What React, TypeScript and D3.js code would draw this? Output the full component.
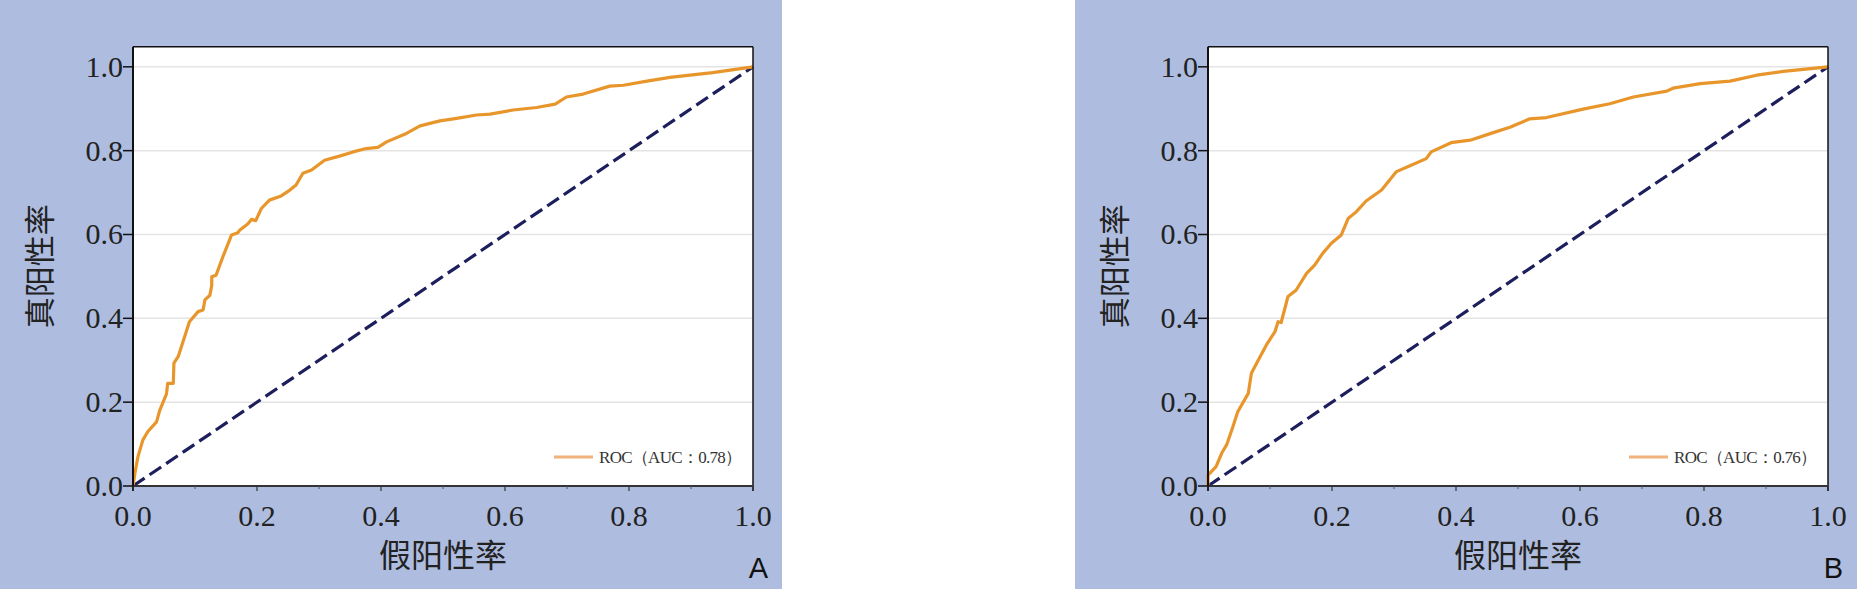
import React from 'react';
import * as d3 from 'd3';

// ROC 曲线读数（假阳性率 / 真阳性率）
const fprA = [0, 0.003, 0.008, 0.016, 0.024, 0.038, 0.043, 0.054, 0.056, 0.065, 0.066, 0.073, 0.091, 0.105, 0.113, 0.116, 0.124, 0.127, 0.127, 0.134, 0.145, 0.159, 0.169, 0.172, 0.185, 0.191, 0.198, 0.207, 0.22, 0.239, 0.253, 0.263, 0.274, 0.288, 0.309, 0.333, 0.355, 0.376, 0.395, 0.409, 0.441, 0.463, 0.495, 0.522, 0.554, 0.576, 0.613, 0.651, 0.681, 0.699, 0.726, 0.769, 0.791, 0.829, 0.866, 0.935, 1];
const tprA = [0, 0.03, 0.07, 0.11, 0.13, 0.153, 0.18, 0.22, 0.245, 0.245, 0.293, 0.309, 0.392, 0.416, 0.42, 0.444, 0.455, 0.479, 0.499, 0.503, 0.547, 0.599, 0.604, 0.61, 0.625, 0.636, 0.633, 0.662, 0.682, 0.692, 0.706, 0.718, 0.746, 0.754, 0.777, 0.787, 0.797, 0.805, 0.808, 0.821, 0.841, 0.859, 0.871, 0.877, 0.885, 0.887, 0.897, 0.903, 0.911, 0.928, 0.935, 0.954, 0.956, 0.966, 0.975, 0.986, 1];

const fprB = [0, 0, 0.013, 0.022, 0.03, 0.04, 0.048, 0.065, 0.07, 0.081, 0.094, 0.108, 0.113, 0.118, 0.129, 0.142, 0.159, 0.172, 0.185, 0.199, 0.215, 0.226, 0.239, 0.255, 0.28, 0.304, 0.323, 0.352, 0.36, 0.392, 0.423, 0.46, 0.487, 0.519, 0.546, 0.605, 0.648, 0.686, 0.74, 0.75, 0.794, 0.842, 0.885, 0.928, 1];
const tprB = [0, 0.026, 0.046, 0.078, 0.098, 0.141, 0.177, 0.221, 0.269, 0.3, 0.336, 0.368, 0.392, 0.39, 0.452, 0.467, 0.507, 0.527, 0.555, 0.579, 0.599, 0.638, 0.654, 0.68, 0.706, 0.75, 0.762, 0.781, 0.797, 0.819, 0.825, 0.843, 0.856, 0.876, 0.879, 0.899, 0.912, 0.928, 0.942, 0.949, 0.96, 0.966, 0.98, 0.989, 1];

const panelLabels = ['A', 'B'];
const aucValues = ['0.78', '0.76'];
const majorTicks = [0, 0.2, 0.4, 0.6, 0.8, 1.0];
const minorTicks = [0.1, 0.3, 0.5, 0.7, 0.9];
const gridTicks = [0.2, 0.4, 0.6, 0.8, 1.0];

const W = 1857;
const H = 590;
const panelW = 782;
const panelH = 589;
const panelX = [0, 1075];
const plot = { left: 133, right: 753, top: 46.7, bottom: 486 };

const serif = '"Liberation Serif", "Times New Roman", serif';
const cjk = '"Noto Sans CJK SC", sans-serif';

function Panel({ fpr, tpr, label, auc, x0 }: { fpr: number[]; tpr: number[]; label: string; auc: string; x0: number }) {
  const x = d3.scaleLinear().domain([0, 1]).range([plot.left, plot.right]);
  const y = d3.scaleLinear().domain([0, 1.048]).range([plot.bottom, plot.top]);
  const pts: [number, number][] = fpr.map((f, i) => [f, tpr[i]]);
  const line = d3.line<[number, number]>().x(d => x(d[0])).y(d => y(d[1]));
  const diag = line([[0, 0], [1, 1]]) || '';

  return (
    <g transform={`translate(${x0},0)`}>
      <rect x={0} y={0} width={panelW} height={panelH} fill="#aebddf" />
      <rect x={plot.left} y={plot.top} width={plot.right - plot.left} height={plot.bottom - plot.top} fill="#ffffff" />
      {gridTicks.map(t => (
        <line key={t} x1={plot.left} x2={plot.right} y1={y(t)} y2={y(t)} stroke="#e4e4e4" strokeWidth={1.5} />
      ))}
      <path d={diag} stroke="#1c1f5c" strokeWidth={3.2} strokeDasharray="14,6" fill="none" />
      <path d={line(pts) || ''} stroke="#e8962b" strokeWidth={3.2} fill="none" strokeLinejoin="round" />

      {/* 边框 */}
      <line x1={plot.left} x2={plot.right} y1={plot.top} y2={plot.top} stroke="#111" strokeWidth={1.5} />
      <line x1={plot.right} x2={plot.right} y1={plot.top} y2={plot.bottom + 5} stroke="#111" strokeWidth={1.5} />
      <line x1={plot.left} x2={plot.right} y1={plot.bottom} y2={plot.bottom} stroke="#333" strokeWidth={2} />
      <line x1={plot.left} x2={plot.left} y1={plot.top} y2={plot.bottom + 5} stroke="#111" strokeWidth={2} />

      {/* y 轴 */}
      {majorTicks.map(t => (
        <g key={t}>
          <line x1={plot.left - 10} x2={plot.left} y1={y(t)} y2={y(t)} stroke="#111" strokeWidth={1.5} />
          <text x={plot.left - 10} y={y(t)} dy="0.33em" textAnchor="end" fontFamily={serif} fontSize={30} fill="#222">
            {d3.format('.1f')(t)}
          </text>
        </g>
      ))}

      {/* x 轴 */}
      {majorTicks.map(t => (
        <g key={t}>
          <line x1={x(t)} x2={x(t)} y1={plot.bottom} y2={plot.bottom + 5} stroke="#333" strokeWidth={1.2} />
          <text x={x(t)} y={526} textAnchor="middle" fontFamily={serif} fontSize={30} fill="#222">
            {d3.format('.1f')(t)}
          </text>
        </g>
      ))}
      {minorTicks.map(t => (
        <line key={t} x1={x(t)} x2={x(t)} y1={plot.bottom} y2={plot.bottom + 3} stroke="#555" strokeWidth={1} />
      ))}

      <text x={(plot.left + plot.right) / 2} y={567} textAnchor="middle" fontFamily={cjk} fontSize={32} fill="#222">
        假阳性率
      </text>
      <text transform={`translate(51,${(plot.top + plot.bottom) / 2}) rotate(-90)`} textAnchor="middle" fontFamily={cjk} fontSize={31} fill="#222">
        真阳性率
      </text>

      {/* 图例 */}
      <line x1={plot.left + 421} x2={plot.left + 460} y1={457} y2={457} stroke="#f2b27c" strokeWidth={3} />
      <text x={plot.left + 466} y={463} fontFamily={serif} fontSize={17} fill="#333" textLength={143} lengthAdjust="spacing">
        {`ROC（AUC：${auc}）`}
      </text>

      <text x={768} y={578} textAnchor="end" fontFamily='"Liberation Sans", Arial, sans-serif' fontSize={29} fill="#111">
        {label}
      </text>
    </g>
  );
}

export default function App() {
  return (
    <>
      <style>{`body{margin:0;background:#fff}`}</style>
      <svg width={W} height={H} style={{ display: 'block' }}>
        <rect width={W} height={H} fill="#ffffff" />
        <Panel fpr={fprA} tpr={tprA} label={panelLabels[0]} auc={aucValues[0]} x0={panelX[0]} />
        <Panel fpr={fprB} tpr={tprB} label={panelLabels[1]} auc={aucValues[1]} x0={panelX[1]} />
      </svg>
    </>
  );
}
